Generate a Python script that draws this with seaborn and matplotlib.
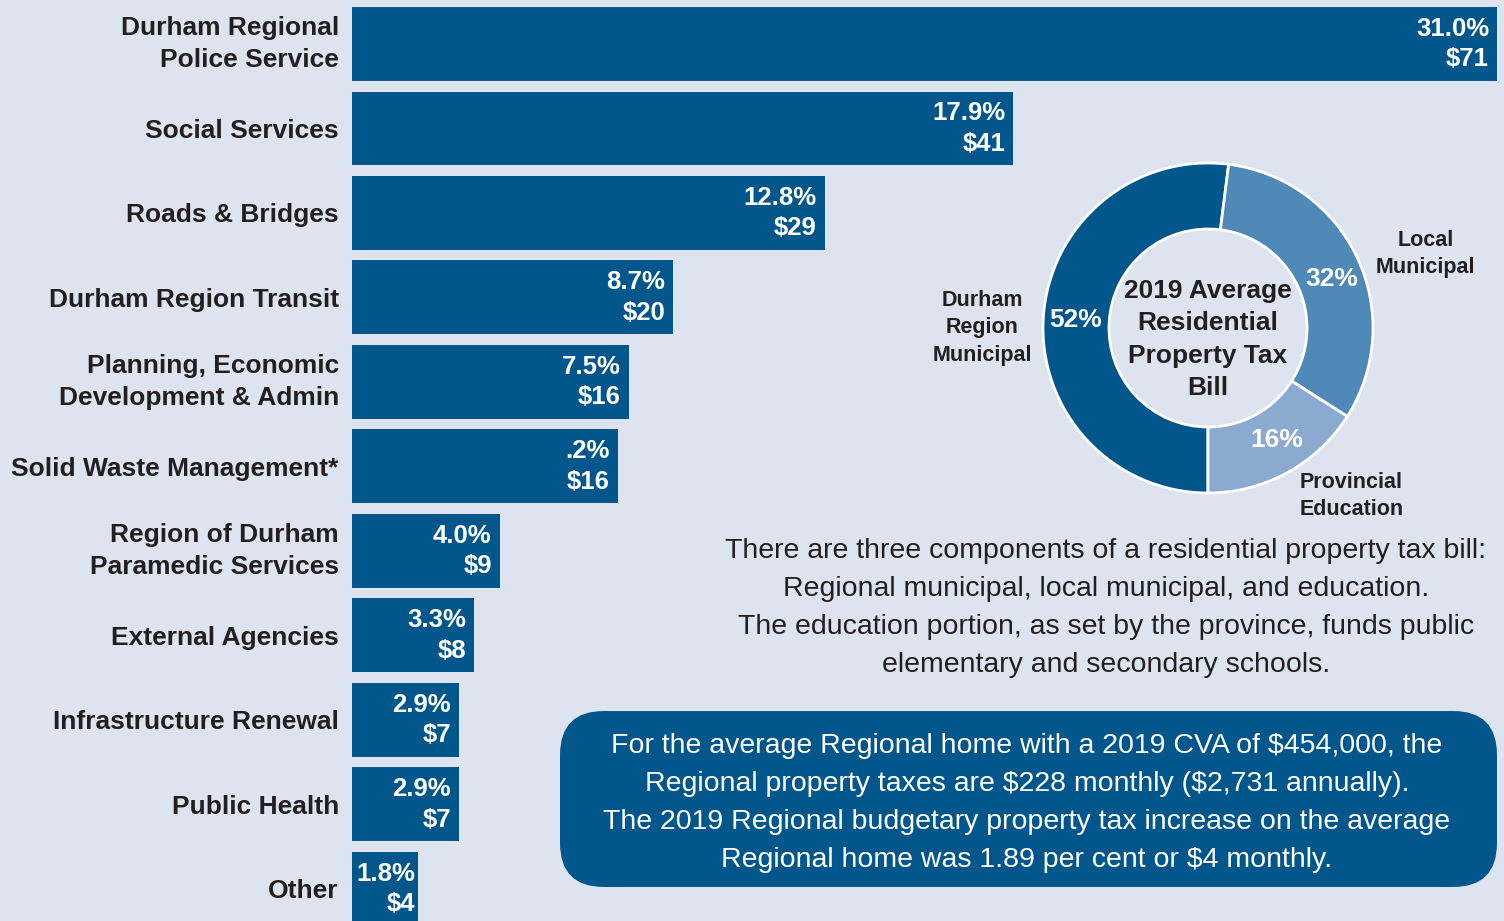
import numpy as np
import pandas as pd
import matplotlib
matplotlib.use("Agg")
import matplotlib.pyplot as plt
import seaborn as sns
from matplotlib.patches import FancyBboxPatch

# bar chart data: share of the regional tax dollar, and monthly dollars
categories = ["Durham Regional\nPolice Service", "Social Services", "Roads & Bridges",
              "Durham Region Transit", "Planning, Economic\nDevelopment & Admin",
              "Solid Waste Management*", "Region of Durham\nParamedic Services",
              "External Agencies", "Infrastructure Renewal", "Public Health", "Other"]
pct_values = [31.0, 17.9, 12.8, 8.7, 7.5, 7.2, 4.0, 3.3, 2.9, 2.9, 1.8]
pct_labels = ["31.0%", "17.9%", "12.8%", "8.7%", "7.5%", ".2%", "4.0%",
              "3.3%", "2.9%", "2.9%", "1.8%"]
dollars = [71, 41, 29, 20, 16, 16, 9, 8, 7, 7, 4]

# donut data
bill_parts = ["Durham\nRegion\nMunicipal", "Local\nMunicipal", "Provincial\nEducation"]
bill_shares = [52, 32, 16]

para_lines = ["There are three components of a residential property tax bill:",
              "Regional municipal, local municipal, and education.",
              "The education portion, as set by the province, funds public",
              "elementary and secondary schools."]
box_lines = ["For the average Regional home with a 2019 CVA of \\$454,000, the",
             "Regional property taxes are \\$228 monthly (\\$2,731 annually).",
             "The 2019 Regional budgetary property tax increase on the average",
             "Regional home was 1.89 per cent or \\$4 monthly."]

bg = "#dde3ef"
navy = "#01568c"
donut_colors = ["#01568c", "#4f89b8", "#8aaad0"]
dark = "#231f20"

sns.set_theme(style="white")
plt.rcParams['font.family'] = ['Liberation Sans', 'DejaVu Sans']

fig = plt.figure(figsize=(15.04, 9.21), dpi=100)
fig.patch.set_facecolor(bg)

# ---- horizontal bars
ax = fig.add_axes([352 / 1504, 0, 1145 / 1504, 1])
ax.set_facecolor("none")
sns.barplot(x=pct_values, y=categories, orient="h", color=navy, saturation=1,
            width=0.874, linewidth=0, ax=ax)
ax.set_xlim(0, 31.0)
ax.set_ylim(10.38, -0.52)
ax.set_xticks([])
ax.set_xlabel("")
ax.set_ylabel("")
sns.despine(ax=ax, left=True, bottom=True)
ax.tick_params(axis="y", length=0, pad=9.5)
ax.set_yticks(range(len(categories)))
ax.set_yticklabels(categories, fontsize=19, fontweight="bold", color=dark)
for lbl in ax.get_yticklabels():
    lbl.set_linespacing(1.42)
    if "\n" in lbl.get_text():
        lbl.set_verticalalignment("center")

for i, (v, p, d) in enumerate(zip(pct_values, pct_labels, dollars)):
    pad = 3 if v < 2 else 8
    ax.annotate(f"{p}\n\\${d}", xy=(v, i), xytext=(-pad, 0),
                textcoords="offset pixels", ha="right", va="center",
                color="white", fontweight="bold", fontsize=18.5, linespacing=1.35)

# ---- donut
pax = fig.add_axes([(1208 - 247.5) / 1504, (921 - 328 - 247.5) / 921, 495 / 1504, 495 / 921])
pax.pie(bill_shares, colors=donut_colors, startangle=-90, counterclock=False,
        wedgeprops=dict(width=0.4, edgecolor="white", linewidth=2))
pax.set_xlim(-1.5, 1.5)
pax.set_ylim(-1.5, 1.5)

pct_pos = [(-0.80, 0.05), (0.75, 0.30), (0.42, -0.68)]
for s, (px, py) in zip(bill_shares, pct_pos):
    pax.text(px, py, f"{s}%", ha="center", va="center", color="white",
             fontsize=19, fontweight="bold")

part_pos = [(-1.37, 0.0), (1.32, 0.45), (0.87, -1.02)]
for name, (px, py) in zip(bill_parts, part_pos):
    pax.text(px, py, name, ha="center", va="center", color=dark,
             fontsize=15.5, fontweight="bold", linespacing=1.38)

pax.text(0, -0.07, "2019 Average\nResidential\nProperty Tax\nBill", ha="center",
         va="center", color=dark, fontsize=19, fontweight="bold", linespacing=1.45)

# ---- text notes (pixel coordinates)
oax = fig.add_axes([0, 0, 1, 1])
oax.set_xlim(0, 1504)
oax.set_ylim(921, 0)
oax.axis("off")

for k, line in enumerate(para_lines):
    oax.text(1106, 558 + 38 * k, line, ha="center", va="baseline",
             color=dark, fontsize=20.5)

box = FancyBboxPatch((560, 711), 937, 176, boxstyle="round,pad=0,rounding_size=44",
                     facecolor=navy, edgecolor="none")
oax.add_patch(box)
for k, line in enumerate(box_lines):
    oax.text(1027, 753 + 38 * k, line, ha="center", va="baseline",
             color="white", fontsize=20.5)

fig.savefig("out.png", dpi=100, facecolor=bg)
